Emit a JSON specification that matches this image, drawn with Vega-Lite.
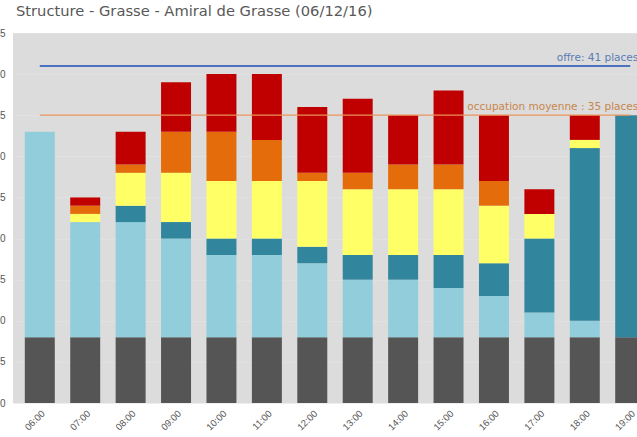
{
  "$schema": "https://vega.github.io/schema/vega-lite/v6.json",
  "autosize": "none",
  "width": 644,
  "height": 370,
  "padding": {"left": 13, "top": 33, "right": 10, "bottom": 40},
  "background": "white",
  "config": {
    "view": {"fill": "#dcdcdc", "stroke": null},
    "font": "Liberation Sans",
    "axis": {"labelColor": "#555555", "labelFont": "Liberation Sans", "domain": false, "ticks": false}
  },
  "title": {
    "text": "Structure - Grasse - Amiral de Grasse (06/12/16)",
    "anchor": "start",
    "frame": "group",
    "dx": 3,
    "offset": 9,
    "fontSize": 14.7,
    "fontWeight": "normal",
    "color": "#585858",
    "font": "DejaVu Sans"
  },
  "datasets": {
    "bars": [
      {"hour":"06:00","cat":"gris","o":0,"value":8},{"hour":"06:00","cat":"bleu clair","o":1,"value":25},{"hour":"06:00","cat":"bleu","o":2,"value":0},{"hour":"06:00","cat":"jaune","o":3,"value":0},{"hour":"06:00","cat":"orange","o":4,"value":0},{"hour":"06:00","cat":"rouge","o":5,"value":0},
      {"hour":"07:00","cat":"gris","o":0,"value":8},{"hour":"07:00","cat":"bleu clair","o":1,"value":14},{"hour":"07:00","cat":"bleu","o":2,"value":0},{"hour":"07:00","cat":"jaune","o":3,"value":1},{"hour":"07:00","cat":"orange","o":4,"value":1},{"hour":"07:00","cat":"rouge","o":5,"value":1},
      {"hour":"08:00","cat":"gris","o":0,"value":8},{"hour":"08:00","cat":"bleu clair","o":1,"value":14},{"hour":"08:00","cat":"bleu","o":2,"value":2},{"hour":"08:00","cat":"jaune","o":3,"value":4},{"hour":"08:00","cat":"orange","o":4,"value":1},{"hour":"08:00","cat":"rouge","o":5,"value":4},
      {"hour":"09:00","cat":"gris","o":0,"value":8},{"hour":"09:00","cat":"bleu clair","o":1,"value":12},{"hour":"09:00","cat":"bleu","o":2,"value":2},{"hour":"09:00","cat":"jaune","o":3,"value":6},{"hour":"09:00","cat":"orange","o":4,"value":5},{"hour":"09:00","cat":"rouge","o":5,"value":6},
      {"hour":"10:00","cat":"gris","o":0,"value":8},{"hour":"10:00","cat":"bleu clair","o":1,"value":10},{"hour":"10:00","cat":"bleu","o":2,"value":2},{"hour":"10:00","cat":"jaune","o":3,"value":7},{"hour":"10:00","cat":"orange","o":4,"value":6},{"hour":"10:00","cat":"rouge","o":5,"value":7},
      {"hour":"11:00","cat":"gris","o":0,"value":8},{"hour":"11:00","cat":"bleu clair","o":1,"value":10},{"hour":"11:00","cat":"bleu","o":2,"value":2},{"hour":"11:00","cat":"jaune","o":3,"value":7},{"hour":"11:00","cat":"orange","o":4,"value":5},{"hour":"11:00","cat":"rouge","o":5,"value":8},
      {"hour":"12:00","cat":"gris","o":0,"value":8},{"hour":"12:00","cat":"bleu clair","o":1,"value":9},{"hour":"12:00","cat":"bleu","o":2,"value":2},{"hour":"12:00","cat":"jaune","o":3,"value":8},{"hour":"12:00","cat":"orange","o":4,"value":1},{"hour":"12:00","cat":"rouge","o":5,"value":8},
      {"hour":"13:00","cat":"gris","o":0,"value":8},{"hour":"13:00","cat":"bleu clair","o":1,"value":7},{"hour":"13:00","cat":"bleu","o":2,"value":3},{"hour":"13:00","cat":"jaune","o":3,"value":8},{"hour":"13:00","cat":"orange","o":4,"value":2},{"hour":"13:00","cat":"rouge","o":5,"value":9},
      {"hour":"14:00","cat":"gris","o":0,"value":8},{"hour":"14:00","cat":"bleu clair","o":1,"value":7},{"hour":"14:00","cat":"bleu","o":2,"value":3},{"hour":"14:00","cat":"jaune","o":3,"value":8},{"hour":"14:00","cat":"orange","o":4,"value":3},{"hour":"14:00","cat":"rouge","o":5,"value":6},
      {"hour":"15:00","cat":"gris","o":0,"value":8},{"hour":"15:00","cat":"bleu clair","o":1,"value":6},{"hour":"15:00","cat":"bleu","o":2,"value":4},{"hour":"15:00","cat":"jaune","o":3,"value":8},{"hour":"15:00","cat":"orange","o":4,"value":3},{"hour":"15:00","cat":"rouge","o":5,"value":9},
      {"hour":"16:00","cat":"gris","o":0,"value":8},{"hour":"16:00","cat":"bleu clair","o":1,"value":5},{"hour":"16:00","cat":"bleu","o":2,"value":4},{"hour":"16:00","cat":"jaune","o":3,"value":7},{"hour":"16:00","cat":"orange","o":4,"value":3},{"hour":"16:00","cat":"rouge","o":5,"value":8},
      {"hour":"17:00","cat":"gris","o":0,"value":8},{"hour":"17:00","cat":"bleu clair","o":1,"value":3},{"hour":"17:00","cat":"bleu","o":2,"value":9},{"hour":"17:00","cat":"jaune","o":3,"value":3},{"hour":"17:00","cat":"orange","o":4,"value":0},{"hour":"17:00","cat":"rouge","o":5,"value":3},
      {"hour":"18:00","cat":"gris","o":0,"value":8},{"hour":"18:00","cat":"bleu clair","o":1,"value":2},{"hour":"18:00","cat":"bleu","o":2,"value":21},{"hour":"18:00","cat":"jaune","o":3,"value":1},{"hour":"18:00","cat":"orange","o":4,"value":0},{"hour":"18:00","cat":"rouge","o":5,"value":3},
      {"hour":"19:00","cat":"gris","o":0,"value":8},{"hour":"19:00","cat":"bleu clair","o":1,"value":0},{"hour":"19:00","cat":"bleu","o":2,"value":27},{"hour":"19:00","cat":"jaune","o":3,"value":0},{"hour":"19:00","cat":"orange","o":4,"value":0},{"hour":"19:00","cat":"rouge","o":5,"value":0}
    ],
    "refs": [
      {"label":"offre: 41 places","y":41,"x1":"06:00","x2":"19:00","kind":"offre"},
      {"label":"occupation moyenne : 35 places","y":35,"x1":"06:00","x2":"19:00","kind":"occupation"}
    ]
  },
  "layer": [
    {
      "data": {"name": "bars"},
      "mark": {"type": "bar"},
      "encoding": {
        "x": {
          "field": "hour", "type": "ordinal",
          "scale": {"paddingInner": 0.34, "paddingOuter": 0.26},
          "axis": {"title": null, "labelAngle": -45, "labelFontSize": 9.5, "labelPadding": 5, "grid": false}
        },
        "y": {
          "field": "value", "type": "quantitative", "aggregate": "sum", "stack": "zero",
          "scale": {"domain": [0, 45], "nice": false},
          "axis": {"title": null, "values": [0,5,10,15,20,25,30,35,40,45], "labelFontSize": 10, "labelPadding": 8, "grid": true, "gridColor": "#e4e4e4", "gridWidth": 0.6}
        },
        "color": {
          "field": "cat", "type": "nominal", "legend": null,
          "scale": {
            "domain": ["gris","bleu clair","bleu","jaune","orange","rouge"],
            "range": ["#555555","#92cddc","#31859c","#ffff66","#e46c0a","#c00000"]
          }
        },
        "order": {"field": "o", "type": "quantitative", "sort": "ascending"}
      }
    },
    {
      "data": {"name": "refs"},
      "mark": {"type": "rule"},
      "encoding": {
        "x": {"field": "x1", "type": "ordinal"},
        "x2": {"field": "x2"},
        "y": {"field": "y", "type": "quantitative"},
        "color": {"field": "kind", "type": "nominal", "legend": null,
          "scale": {"domain": ["offre","occupation"], "range": ["#4a72c0","#e8925a"]}},
        "strokeWidth": {"field": "kind", "type": "nominal", "legend": null,
          "scale": {"domain": ["offre","occupation"], "range": [2, 1.2]}}
      }
    },
    {
      "data": {"name": "refs"},
      "mark": {"type": "text", "align": "right", "baseline": "bottom", "dx": 8, "dy": -3, "fontSize": 10.5, "font": "DejaVu Sans"},
      "encoding": {
        "x": {"field": "x2", "type": "ordinal"},
        "y": {"field": "y", "type": "quantitative"},
        "text": {"field": "label"},
        "color": {"field": "kind", "type": "nominal", "legend": null,
          "scale": {"domain": ["offre","occupation"], "range": ["#5b7db5","#c8864a"]}}
      }
    }
  ],
  "resolve": {"scale": {"color": "independent"}}
}
